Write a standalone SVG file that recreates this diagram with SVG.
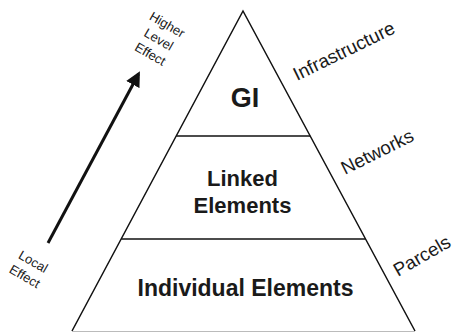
<svg xmlns="http://www.w3.org/2000/svg" width="457" height="332" viewBox="0 0 457 332">
<style>
.edge{fill:none;stroke:#111;stroke-width:1.5}
.lbl{font-family:"Liberation Sans",Arial,sans-serif;font-weight:bold;font-size:22px;fill:#1a1a1a;text-anchor:middle}
.side{font-family:"Liberation Sans",Arial,sans-serif;font-size:18.8px;fill:#1a1a1a}
.small{font-family:"Liberation Sans",Arial,sans-serif;font-size:13px;fill:#1a1a1a;text-anchor:middle}
</style>
<defs>
<marker id="ah" markerWidth="5" markerHeight="5" refX="4" refY="2.5" orient="auto" markerUnits="strokeWidth">
<path d="M0,0 L5,2.5 L0,5 Z" fill="#111"/>
</marker>
</defs>
<rect width="457" height="332" fill="#fff"/>
<g id="pyramid">
<path class="edge" d="M72,331 L243,11 L415,331"/>
<line x1="72" y1="331.5" x2="415" y2="331.5" stroke="#bbb" stroke-width="1"/>
</g>
<g id="gi">
<line class="edge" x1="176.3" y1="136" x2="310.2" y2="136"/>
<text class="lbl" x="245" y="107" style="font-size:27px">GI</text>
</g>
<g id="linked">
<line class="edge" x1="121.3" y1="239" x2="365.5" y2="239"/>
<text class="lbl" x="242.5" y="186">Linked</text>
<text class="lbl" x="242.5" y="213">Elements</text>
</g>
<g id="individual">
<text class="lbl" x="245.5" y="296" style="font-size:23px">Individual Elements</text>
</g>
<g id="side-labels">
<text class="side" transform="translate(297,81) rotate(-26)">Infrastructure</text>
<text class="side" transform="translate(345,175) rotate(-26.5)">Networks</text>
<text class="side" transform="translate(398,277) rotate(-30)">Parcels</text>
</g>
<g id="connectors">
<line x1="48" y1="243" x2="138.5" y2="74" stroke="#111" stroke-width="3" marker-end="url(#ah)"/>
</g>
<g id="effect-labels">
<g transform="translate(167,25) rotate(30)">
<text class="small" x="0" y="4">Higher</text>
<text class="small" x="0" y="21">Level</text>
<text class="small" x="0" y="38">Effect</text>
</g>
<g transform="translate(33,262) rotate(30)">
<text class="small" x="0" y="4">Local</text>
<text class="small" x="0" y="21">Effect</text>
</g>
</g>
</svg>
